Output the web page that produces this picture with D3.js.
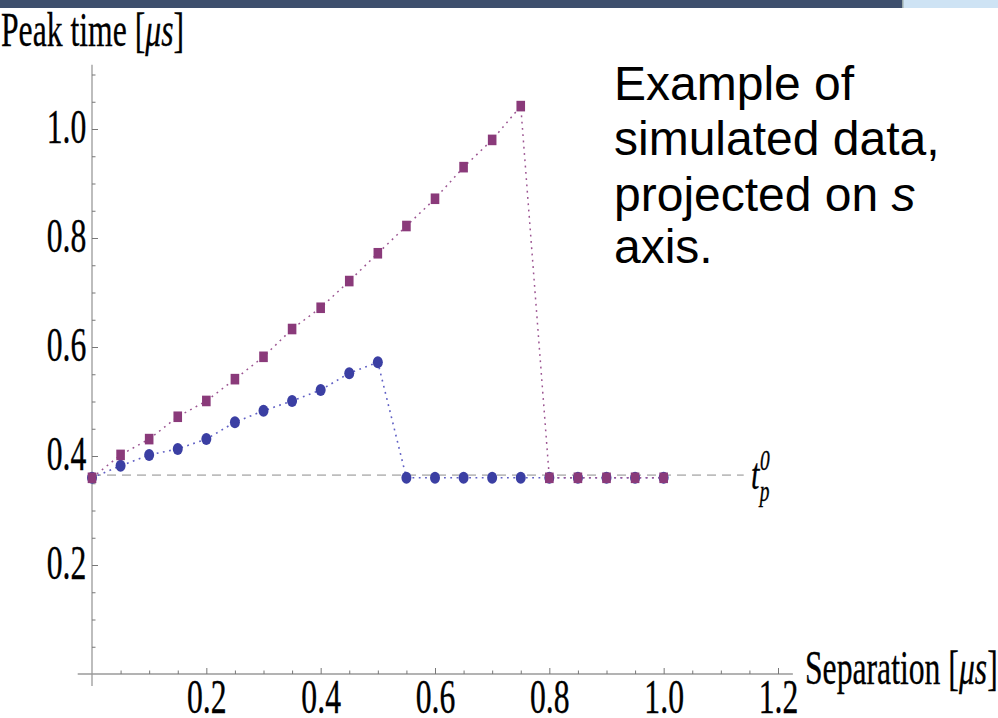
<!DOCTYPE html>
<html>
<head>
<meta charset="utf-8">
<script src="https://cdn.jsdelivr.net/npm/d3@7"></script>
<style>
  html, body { margin: 0; padding: 0; background: #fff; }
  svg { display: block; }
</style>
</head>
<body>
<svg id="chart" width="998" height="718"></svg>
<script>
// Separation values (µs) at which peak times were simulated
const separation = [0, 0.05, 0.1, 0.15, 0.2, 0.25, 0.3, 0.35, 0.4, 0.45, 0.5,
                    0.55, 0.6, 0.65, 0.7, 0.75, 0.8, 0.85, 0.9, 0.95, 1.0];
// Peak time (µs), blue series (circles)
const peakBlue = [0.36, 0.382, 0.402, 0.413, 0.431, 0.462, 0.483, 0.501, 0.521, 0.552, 0.572,
                  0.36, 0.36, 0.36, 0.36, 0.36, 0.36, 0.36, 0.36, 0.36, 0.36];
// Peak time (µs), purple series (squares)
const peakPurple = [0.36, 0.402, 0.431, 0.472, 0.501, 0.541, 0.582, 0.633, 0.672, 0.721, 0.772,
                    0.822, 0.872, 0.930, 0.980, 1.042, 0.36, 0.36, 0.36, 0.36, 0.36];
// Single-pulse peak time t_p^0
const tp0 = 0.365;
const xTicks = [0.2, 0.4, 0.6, 0.8, 1.0, 1.2];
const xMinor = d3.range(1, 25).map(i => i * 0.05).filter(v => Math.abs(v * 5 - Math.round(v * 5)) > 1e-6);
const yTicks = [0.2, 0.4, 0.6, 0.8, 1.0];
const yMinor = d3.range(1, 23).map(i => i * 0.05).filter(v => Math.abs(v * 5 - Math.round(v * 5)) > 1e-6);

const svg = d3.select("#chart");
const serif = "'Liberation Serif', 'Times New Roman', serif";
const sx = 0.72, sy = 1.08;

// slide header strip
svg.append("rect").attr("x", 0).attr("y", 0).attr("width", 902).attr("height", 8).attr("fill", "#3e4f6d");
svg.append("rect").attr("x", 903).attr("y", 0).attr("width", 95).attr("height", 8).attr("fill", "#cee3f4");
svg.append("rect").attr("x", 902).attr("y", 0).attr("width", 1.5).attr("height", 8).attr("fill", "#9aa");

const x = d3.scaleLinear().domain([0, 1.2]).range([92, 778]);
const y = d3.scaleLinear().domain([0, 1.0]).range([674, 129]);

const axisColor = "#9a9a9a";

// axis lines
svg.append("line").attr("x1", x(-0.025)).attr("x2", x(1.226)).attr("y1", y(0)).attr("y2", y(0))
  .attr("stroke", axisColor).attr("stroke-width", 1.3);
svg.append("line").attr("x1", x(0)).attr("x2", x(0)).attr("y1", y(-0.022)).attr("y2", y(1.118))
  .attr("stroke", axisColor).attr("stroke-width", 1.3);

function styleAxis(g) {
  g.select(".domain").remove();
  g.selectAll(".tick line").attr("stroke", "#777").attr("stroke-width", 1);
  g.selectAll(".tick text").attr("fill", "#000").attr("font-family", serif).attr("font-size", 44)
    .attr("stroke", "#000").attr("stroke-width", 0.35)
    .attr("transform", `scale(${sx},${sy})`);
}

// x axis: minor + major ticks pointing up
svg.append("g").attr("transform", `translate(0,${y(0)})`)
  .call(d3.axisBottom(x).tickValues(xMinor).tickSize(-3.5).tickFormat(""))
  .call(styleAxis);
svg.append("g").attr("transform", `translate(0,${y(0)})`)
  .call(d3.axisBottom(x).tickValues(xTicks).tickSize(-6).tickPadding(5).tickFormat(d3.format(".1f")))
  .call(styleAxis);

// y axis: minor + major ticks pointing right
svg.append("g").attr("transform", `translate(${x(0)},0)`)
  .call(d3.axisLeft(y).tickValues(yMinor).tickSize(-3.5).tickFormat(""))
  .call(styleAxis);
svg.append("g").attr("transform", `translate(${x(0)},0)`)
  .call(d3.axisLeft(y).tickValues(yTicks).tickSize(-6).tickPadding(8).tickFormat(d3.format(".1f")))
  .call(styleAxis)
  .call(g => g.selectAll(".tick text").attr("y", -1.5));

// axis titles
svg.append("text").attr("transform", `translate(1,46) scale(${sx},${sy})`)
  .attr("font-family", serif).attr("font-size", 44).attr("fill", "#000")
  .attr("stroke", "#000").attr("stroke-width", 0.3)
  .html("Peak time [<tspan font-style='italic'>μs</tspan>]");
svg.append("text").attr("transform", `translate(805,684) scale(${sx},${sy})`)
  .attr("font-family", serif).attr("font-size", 44).attr("fill", "#000")
  .attr("stroke", "#000").attr("stroke-width", 0.3)
  .html("Separation [<tspan font-style='italic'>μs</tspan>]");

// t_p^0 reference line
svg.append("line").attr("x1", x(0)).attr("x2", x(1.14)).attr("y1", y(tp0)).attr("y2", y(tp0))
  .attr("stroke", "#bdbdbd").attr("stroke-width", 1.6).attr("stroke-dasharray", "9,6");
const tLab = svg.append("text").attr("transform", `translate(751,${y(tp0) + 14}) scale(${sx},${sy})`)
  .attr("font-family", serif).attr("font-size", 42).attr("font-style", "italic").attr("fill", "#000")
  .attr("stroke", "#000").attr("stroke-width", 0.3);
tLab.append("tspan").text("t");
tLab.append("tspan").attr("font-size", 27).attr("dx", 1).attr("dy", -18).text("0");
tLab.append("tspan").attr("font-size", 27).attr("dx", -14).attr("dy", 29).text("p");

const pts = (vals) => separation.map((s, i) => [s, vals[i]]);
const line = d3.line().x(d => x(d[0])).y(d => y(d[1]));

// blue series
svg.append("path").attr("d", line(pts(peakBlue))).attr("fill", "none")
  .attr("stroke", "#5f5fc4").attr("stroke-width", 1.6).attr("stroke-dasharray", "1.8,4.5");
svg.append("g").selectAll("ellipse").data(pts(peakBlue)).join("ellipse")
  .attr("cx", d => x(d[0])).attr("cy", d => y(d[1])).attr("rx", 5).attr("ry", 6)
  .attr("fill", "#3b3fa3");

// purple series
svg.append("path").attr("d", line(pts(peakPurple))).attr("fill", "none")
  .attr("stroke", "#9c5592").attr("stroke-width", 1.5).attr("stroke-dasharray", "1.8,4.5");
svg.append("g").selectAll("rect").data(pts(peakPurple)).join("rect")
  .attr("x", d => x(d[0]) - 4.3).attr("y", d => y(d[1]) - 5.3).attr("width", 8.6).attr("height", 10.6)
  .attr("fill", "#8a3a7a");

// annotation
const note = svg.append("text").attr("font-family", "'Liberation Sans', Arial, sans-serif")
  .attr("font-size", 48).attr("fill", "#000");
note.append("tspan").attr("x", 614).attr("y", 100).text("Example of");
note.append("tspan").attr("x", 614).attr("y", 155).text("simulated data,");
const l3 = note.append("tspan").attr("x", 614).attr("y", 211);
l3.append("tspan").text("projected on ");
l3.append("tspan").attr("font-style", "italic").text("s");
note.append("tspan").attr("x", 614).attr("y", 263).text("axis.");
</script>
</body>
</html>
